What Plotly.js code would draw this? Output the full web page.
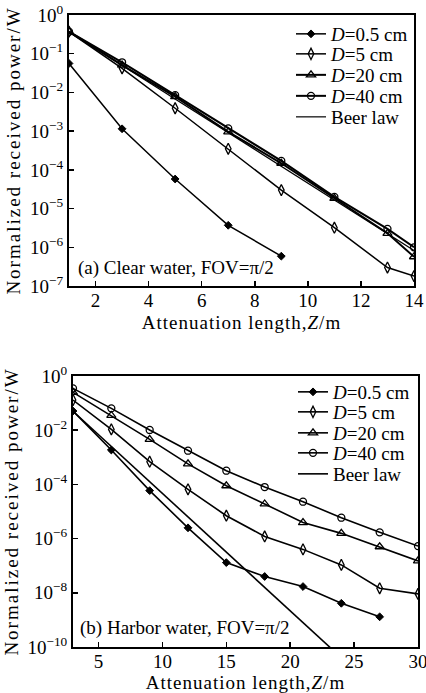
<!DOCTYPE html>
<html>
<head>
<meta charset="utf-8">
<script src="https://cdn.plot.ly/plotly-3.0.1.min.js"></script>
<style>
html,body{margin:0;padding:0;background:#fff;}
#chart{width:426px;height:693px;}
.g-ytitle text, .g-y2title text {letter-spacing:2px;}
.g-xtitle text, .g-x2title text {letter-spacing:1px;}
</style>
</head>
<body>
<div id="chart"></div>
<script>
// ---- (a) Clear water ----
const clearZ = [1, 3, 5, 7, 9, 11, 13, 14];
const clearD05 = [0.056, 1.15e-3, 5.8e-5, 3.7e-6, 5.9e-7];
const clearD5 = [0.37, 0.042, 3.9e-3, 3.5e-4, 3.0e-5, 3.2e-6, 3.0e-7, 1.8e-7];
const clearD20 = [0.37, 0.051, 7.8e-3, 9.6e-4, 1.48e-4, 1.83e-5, 2.3e-6, 5.7e-7];
const clearD40 = [0.37, 0.060, 8.5e-3, 1.18e-3, 1.7e-4, 2.0e-5, 3.0e-6, 1.0e-6];
const clearBeerZ = [1, 14];
const clearBeer = [0.37, 8.3e-7];

// ---- (b) Harbor water ----
const harborZ = [3, 6, 9, 12, 15, 18, 21, 24, 27, 30];
const harborD05 = [0.051, 1.86e-3, 5.9e-5, 2.5e-6, 1.3e-7, 4.0e-8, 1.7e-8, 4.1e-9, 1.3e-9];
const harborD5 = [0.13, 0.0107, 6.9e-4, 6.6e-5, 7.0e-6, 1.2e-6, 4.0e-7, 1.07e-7, 1.47e-8, 9.1e-9];
const harborD20 = [0.25, 0.035, 4.6e-3, 5.7e-4, 8.9e-5, 1.9e-5, 3.9e-6, 1.56e-6, 5.0e-7, 1.5e-7];
const harborD40 = [0.35, 0.064, 0.0102, 1.75e-3, 3.2e-4, 8.0e-5, 2.3e-5, 5.9e-6, 1.7e-6, 5.3e-7];
const harborBeerZ = [3, 24];
const harborBeer = [0.05, 4.0e-11];

// ---- labels ----
const seriesNames = ['<i>D</i>=0.5 cm', '<i>D</i>=5 cm', '<i>D</i>=20 cm', '<i>D</i>=40 cm', 'Beer law'];
const clearXTicks = [2, 4, 6, 8, 10, 12, 14];
const harborXTicks = [5, 10, 15, 20, 25, 30];
const clearYTickVals = [1, 1e-1, 1e-2, 1e-3, 1e-4, 1e-5, 1e-6, 1e-7];
const clearYTickText = ['10<sup>0</sup>', '10<sup>−1</sup>', '10<sup>−2</sup>', '10<sup>−3</sup>', '10<sup>−4</sup>', '10<sup>−5</sup>', '10<sup>−6</sup>', '10<sup>−7</sup>'];
const harborYTickVals = [1, 1e-2, 1e-4, 1e-6, 1e-8, 1e-10];
const harborYTickText = ['10<sup>0</sup>', '10<sup>−2</sup>', '10<sup>−4</sup>', '10<sup>−6</sup>', '10<sup>−8</sup>', '10<sup>−10</sup>'];

const FONT = "'Liberation Serif', 'Times New Roman', serif";
const markerSpecs = [
  {symbol: 'diamond', size: 6, color: '#000', line: {color: '#000', width: 1}},
  {symbol: 'diamond-tall-open', size: 8, color: '#000', line: {color: '#000', width: 1.3}},
  {symbol: 'triangle-up-open', size: 8, color: '#000', line: {color: '#000', width: 1.3}},
  {symbol: 'circle-open', size: 7, color: '#000', line: {color: '#000', width: 1.3}}
];

function mk(x, y, i, xa, ya, lg, lw) {
  return {
    x: x.slice(0, y.length), y: y, xaxis: xa, yaxis: ya, legend: lg,
    name: seriesNames[i], type: 'scatter', mode: 'lines+markers',
    line: {color: '#000', width: lw}, marker: markerSpecs[i]
  };
}
function beer(x, y, xa, ya, lg, lw) {
  return {x: x, y: y, xaxis: xa, yaxis: ya, legend: lg, name: seriesNames[4],
    type: 'scatter', mode: 'lines', line: {color: '#000', width: lw}};
}

const data = [
  mk(clearZ, clearD05, 0, 'x', 'y', 'legend', 1.5),
  mk(clearZ, clearD5, 1, 'x', 'y', 'legend2', 1.5),
  mk(clearZ, clearD20, 2, 'x', 'y', 'legend3', 2),
  mk(clearZ, clearD40, 3, 'x', 'y', 'legend4', 2),
  beer(clearBeerZ, clearBeer, 'x', 'y', 'legend5', 1.2),
  mk(harborZ, harborD05, 0, 'x2', 'y2', 'legend6', 1.6),
  mk(harborZ, harborD5, 1, 'x2', 'y2', 'legend7', 1.6),
  mk(harborZ, harborD20, 2, 'x2', 'y2', 'legend8', 1.6),
  mk(harborZ, harborD40, 3, 'x2', 'y2', 'legend9', 1.6),
  beer(harborBeerZ, harborBeer, 'x2', 'y2', 'legend10', 1.6)
];

const axBase = {
  showgrid: false, zeroline: false, showline: true, linecolor: '#000', linewidth: 2,
  mirror: true, ticks: 'inside', ticklen: 5, tickwidth: 1.5, tickcolor: '#000',
  ticklabeloverflow: 'allow',
  tickfont: {family: FONT, size: 19, color: '#000'}
};
const titleFont = {family: FONT, size: 19, color: '#000'};
const legFont = {family: FONT, size: 19, color: '#000'};

const L = 69, R = 8, T = 15, B = 46, WID = 426, HEI = 693;
const W = WID - L - R, H = HEI - T - B;
const px = v => (v - L) / W;
const py = v => (HEI - B - v) / H;

const layout = {
  width: WID, height: HEI,
  margin: {l: L, r: R, t: T, b: B},
  paper_bgcolor: '#fff', plot_bgcolor: '#fff',
  showlegend: true,
  xaxis: Object.assign({}, axBase, {domain: [0, px(414)], range: [1, 14], tickvals: clearXTicks,
    anchor: 'y', ticklabelstandoff: -4,
    title: {text: 'Attenuation length,<i>Z</i>/m', font: titleFont, standoff: 6}}),
  yaxis: Object.assign({}, axBase, {domain: [py(286), 1], type: 'log', range: [-7, 0],
    tickvals: clearYTickVals, ticktext: clearYTickText, anchor: 'x',
    title: {text: 'Normalized received power/W', font: titleFont, standoff: 4}}),
  xaxis2: Object.assign({}, axBase, {domain: [px(73), 1], range: [3, 30], tickvals: harborXTicks,
    anchor: 'y2', ticklabelstandoff: -4,
    title: {text: 'Attenuation length,<i>Z</i>/m', font: titleFont, standoff: 6}}),
  yaxis2: Object.assign({}, axBase, {domain: [0, py(376)], type: 'log', range: [-10, 0],
    tickvals: harborYTickVals, ticktext: harborYTickText, anchor: 'x2',
    title: {text: 'Normalized received power/W', font: titleFont, standoff: 4}}),
  annotations: [
    {text: '(a) Clear water, FOV=π/2', xref: 'x domain', yref: 'y domain', x: 0.02, y: 0.065,
     xanchor: 'left', yanchor: 'middle', showarrow: false, font: {family: FONT, size: 19, color: '#000'}},
    {text: '(b) Harbor water, FOV=π/2', xref: 'x2 domain', yref: 'y2 domain', x: 0.015, y: 0.07,
     xanchor: 'left', yanchor: 'middle', showarrow: false, font: {family: FONT, size: 19, color: '#000'}}
  ]
};

// one single-entry legend per series, so rows sit at the reference spacing
const legendRowsTop = [34, 54, 75, 96, 117];
const legendRowsBot = [392, 412, 433, 453, 474];
const legKeys = ['legend', 'legend2', 'legend3', 'legend4', 'legend5', 'legend6', 'legend7', 'legend8', 'legend9', 'legend10'];
legKeys.forEach((k, i) => {
  const rowY = i < 5 ? legendRowsTop[i] : legendRowsBot[i - 5];
  const leftX = i < 5 ? 291 : 293;
  layout[k] = {x: px(leftX), xanchor: 'left', y: py(rowY), yanchor: 'middle',
    bgcolor: 'rgba(0,0,0,0)', font: legFont, itemwidth: 30, borderwidth: 0};
});

Plotly.newPlot('chart', data, layout, {displayModeBar: false, staticPlot: true});
</script>
</body>
</html>
